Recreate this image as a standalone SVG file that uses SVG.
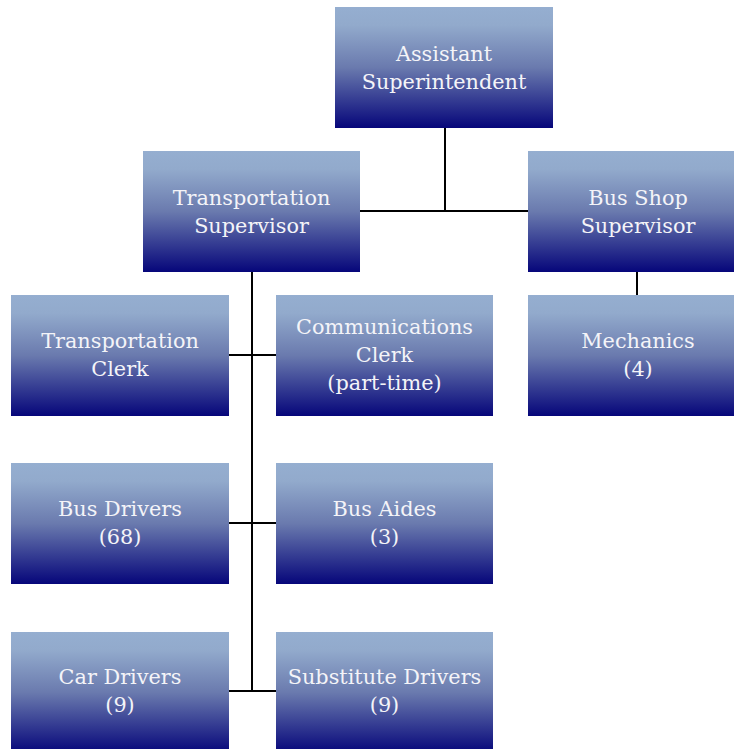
<svg xmlns="http://www.w3.org/2000/svg" width="734" height="749" viewBox="0 0 734 749">
<defs>
<linearGradient id="g" x1="0" y1="0" x2="0" y2="1">
<stop offset="0" stop-color="#95aed0"/>
<stop offset="0.15" stop-color="#92aacc"/>
<stop offset="0.5" stop-color="#6a7aae"/>
<stop offset="1" stop-color="#06067a"/>
</linearGradient>
<style>
.box{fill:url(#g);}
.t{font-family:"DejaVu Serif","Liberation Serif",serif;font-size:20.8px;fill:#f4f4f8;text-anchor:middle;}
.c{stroke:#000;stroke-width:2;fill:none;}
</style>
</defs>
<rect width="734" height="749" fill="#fff"/>
<g id="connectors">
<path class="c" d="M445 128V211M360 211H528M252 272V691M229 355H276M229 523H276M229 691H276M637 272V295"/>
</g>
<g id="assistant-superintendent">
<rect class="box" x="335" y="7" width="218" height="121"/>
<text class="t" x="444" y="61">Assistant</text>
<text class="t" x="444" y="89">Superintendent</text>
</g>
<g id="transportation-supervisor">
<rect class="box" x="143" y="151" width="217" height="121"/>
<text class="t" x="251.5" y="205">Transportation</text>
<text class="t" x="251.5" y="233">Supervisor</text>
</g>
<g id="bus-shop-supervisor">
<rect class="box" x="528" y="151" width="206" height="121"/>
<text class="t" x="638" y="205">Bus Shop</text>
<text class="t" x="638" y="233">Supervisor</text>
</g>
<g id="transportation-clerk">
<rect class="box" x="11" y="295" width="218" height="121"/>
<text class="t" x="120" y="348">Transportation</text>
<text class="t" x="120" y="376">Clerk</text>
</g>
<g id="communications-clerk">
<rect class="box" x="276" y="295" width="217" height="121"/>
<text class="t" x="384.5" y="334">Communications</text>
<text class="t" x="384.5" y="362">Clerk</text>
<text class="t" x="384.5" y="390">(part-time)</text>
</g>
<g id="mechanics">
<rect class="box" x="528" y="295" width="206" height="121"/>
<text class="t" x="638" y="348">Mechanics</text>
<text class="t" x="638" y="376">(4)</text>
</g>
<g id="bus-drivers">
<rect class="box" x="11" y="463" width="218" height="121"/>
<text class="t" x="120" y="516">Bus Drivers</text>
<text class="t" x="120" y="544">(68)</text>
</g>
<g id="bus-aides">
<rect class="box" x="276" y="463" width="217" height="121"/>
<text class="t" x="384.5" y="516">Bus Aides</text>
<text class="t" x="384.5" y="544">(3)</text>
</g>
<g id="car-drivers">
<rect class="box" x="11" y="632" width="218" height="121"/>
<text class="t" x="120" y="684">Car Drivers</text>
<text class="t" x="120" y="712">(9)</text>
</g>
<g id="substitute-drivers">
<rect class="box" x="276" y="632" width="217" height="121"/>
<text class="t" x="384.5" y="684">Substitute Drivers</text>
<text class="t" x="384.5" y="712">(9)</text>
</g>
</svg>
